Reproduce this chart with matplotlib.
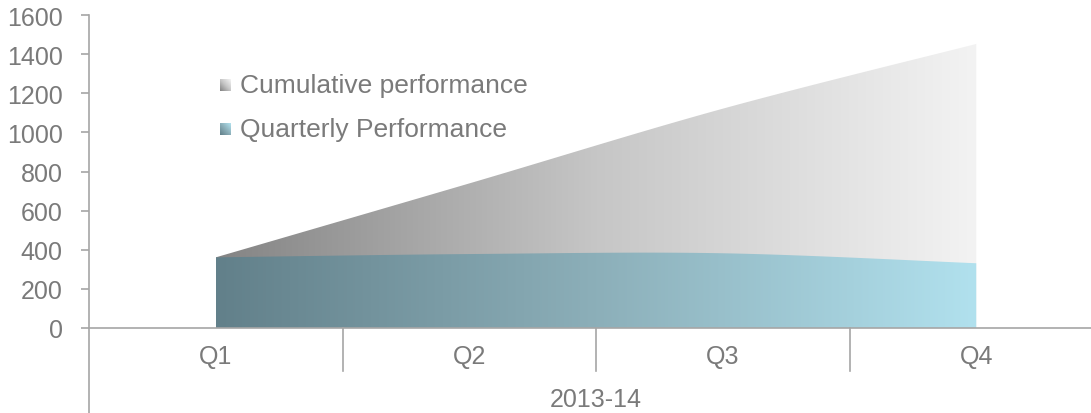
import numpy as np
import matplotlib.pyplot as plt
from matplotlib.colors import LinearSegmentedColormap
from matplotlib.patches import Polygon
from matplotlib.transforms import blended_transform_factory

quarters = ["Q1", "Q2", "Q3", "Q4"]
period = "2013-14"
quarterly = [361, 378, 382, 331]
cumulative = np.cumsum(quarterly)
series_names = ["Cumulative performance", "Quarterly Performance"]

text_color = "#7a7a7a"
axis_color = "#a6a6a6"
gray_cmap = LinearSegmentedColormap.from_list("gray_fade", ["#848484", "#c6c6c6", "#f3f3f3"])
teal_cmap = LinearSegmentedColormap.from_list("teal_fade", ["#62808a", "#8cafb9", "#b1e1ee"])

plt.rcParams["font.family"] = ["Liberation Sans", "DejaVu Sans"]


def smooth(values, n=60):
    # Bezier smoothing of a line through evenly spaced category points
    y = np.asarray(values, dtype=float)
    x = np.arange(len(y), dtype=float)
    px = np.concatenate([[x[0]], x, [x[-1]]])
    py = np.concatenate([[y[0]], y, [y[-1]]])
    xs, ys = [], []
    for i in range(len(y) - 1):
        x0, x1, x2, x3 = px[i:i + 4]
        y0, y1, y2, y3 = py[i:i + 4]
        bx1, by1 = x1 + (x2 - x0) / 6, y1 + (y2 - y0) / 6
        bx2, by2 = x2 - (x3 - x1) / 6, y2 - (y3 - y1) / 6
        t = np.linspace(0, 1, n)
        mt = 1 - t
        xs.append(mt**3 * x1 + 3 * mt**2 * t * bx1 + 3 * mt * t**2 * bx2 + t**3 * x2)
        ys.append(mt**3 * y1 + 3 * mt**2 * t * by1 + 3 * mt * t**2 * by2 + t**3 * y2)
    return np.concatenate(xs), np.concatenate(ys)


def gradient_area(ax, values, cmap, z):
    xs, ys = smooth(values)
    verts = np.column_stack([np.r_[xs[0], xs, xs[-1]], np.r_[0, ys, 0]])
    outline = Polygon(verts, closed=True, facecolor="none", edgecolor="none")
    ax.add_patch(outline)
    grad = np.linspace(0, 1, 256).reshape(1, -1)
    im = ax.imshow(grad, cmap=cmap, extent=(xs[0], xs[-1], 0, max(ys)),
                   aspect="auto", origin="lower", zorder=z, interpolation="bilinear")
    im.set_clip_path(outline)


fig = plt.figure(figsize=(10.91, 4.14), dpi=100)
W, H = 1091, 414
ax = fig.add_axes([89 / W, 85 / H, (1103 - 89) / W, 313 / H])

gradient_area(ax, cumulative, gray_cmap, 1)
gradient_area(ax, quarterly, teal_cmap, 2)

ax.set_xlim(-0.5, 3.5)
ax.set_ylim(0, 1600)
ax.set_yticks(range(0, 1601, 200))
ax.set_xticks([])

for side in ["top", "right", "left"]:
    ax.spines[side].set_visible(False)
ax.spines["bottom"].set_color(axis_color)
ax.spines["bottom"].set_linewidth(1.2)
ax.tick_params(axis="y", colors=axis_color, labelcolor=text_color, labelsize=18,
               length=6, width=1.2, pad=13)

# left axis line runs down through the category label rows
ax.plot([-0.5, -0.5], [-460, 1600], color=axis_color, lw=1.2, clip_on=False, zorder=5)

trans = blended_transform_factory(ax.transData, ax.transAxes)
for i, q in enumerate(quarters):
    ax.text(i, -28 / 313, q, transform=trans, ha="center", va="center",
            fontsize=18, color=text_color)
for b in np.arange(0.5, len(quarters) - 1, 1.0):
    ax.plot([b, b], [0, -43 / 313], transform=trans, color=axis_color,
            lw=1.2, clip_on=False)
ax.text((len(quarters) - 1) / 2, -71 / 313, period, transform=trans,
        ha="center", va="center", fontsize=18, color=text_color)

# legend with gradient swatches
for name, cmap, yc in [(series_names[0], gray_cmap, 86), (series_names[1], teal_cmap, 130)]:
    sw = fig.add_axes([220 / W, (H - yc - 6) / H, 11 / W, 12 / H])
    g = np.add.outer(np.linspace(0, 1, 20), np.linspace(0, 1, 20)) / 2
    sw.imshow(g, cmap=cmap, origin="lower", aspect="auto")
    sw.axis("off")
    fig.text(240 / W, (H - yc) / H, name, ha="left", va="center",
             fontsize=19, color=text_color)

fig.savefig("out.png", dpi=100)
